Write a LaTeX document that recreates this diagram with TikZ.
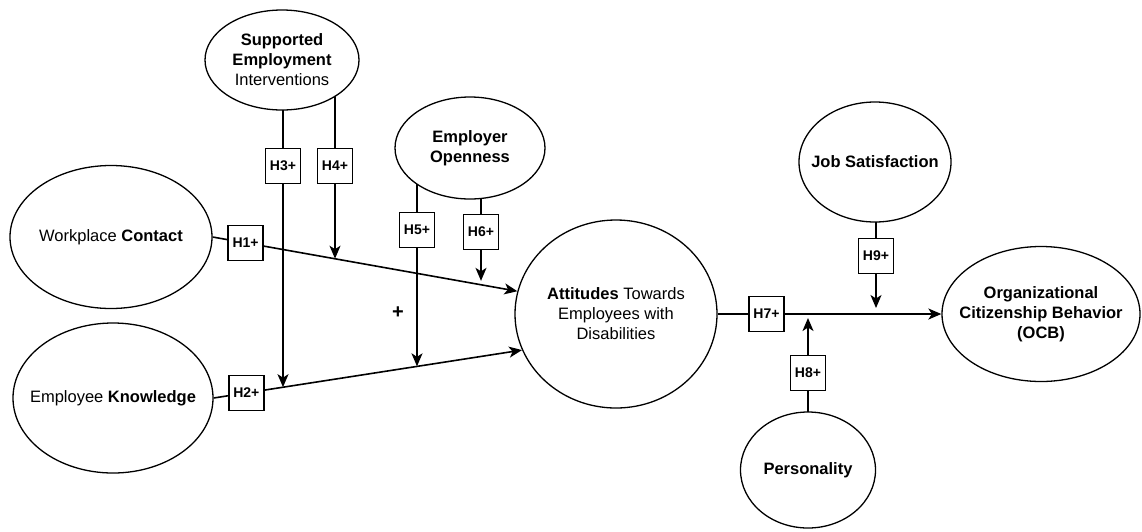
\documentclass[tikz,border=0pt]{standalone}
\usepackage{fontspec}
\setmainfont{Liberation Sans}
\usetikzlibrary{shapes.geometric,arrows.meta,backgrounds}
\begin{document}
\begin{tikzpicture}[x=1pt,y=-1pt,
  ell/.style={ellipse,draw,line width=1.3pt,fill=white,inner xsep=-45pt,inner ysep=-32pt,align=center,font=\fontsize{16.5}{20}\selectfont},
  hbox/.style={rectangle,draw,line width=1.7pt,fill=white,minimum size=35pt,inner sep=0pt,font=\fontsize{14}{16}\selectfont\bfseries},
  conn/.style={line width=1.6pt},
  arr/.style={conn,-{Stealth[length=13pt,width=11pt,inset=3.5pt]}}]
\useasboundingbox (0,0) rectangle (1142,531);

% ellipses
\node[ell,minimum width=154pt,minimum height=100pt] (sei) at (282,60) {\textbf{Supported}\\\textbf{Employment}\\Interventions};
\node[ell,minimum width=202pt,minimum height=143pt] (wc) at (111,237) {Workplace \textbf{Contact}};
\node[ell,minimum width=200pt,minimum height=150pt] (ek) at (113,398) {Employee \textbf{Knowledge}};
\node[ell,minimum width=150pt,minimum height=102pt] (eo) at (470,148) {\textbf{Employer}\\\textbf{Openness}};
\node[ell,minimum width=202pt,minimum height=188pt] (att) at (616,314) {\textbf{Attitudes} Towards\\Employees with\\Disabilities};
\node[ell,minimum width=152pt,minimum height=120pt] (js) at (875,162) {\textbf{Job Satisfaction}};
\node[ell,minimum width=198pt,minimum height=135pt] (ocb) at (1041,314) {\textbf{Organizational}\\\textbf{Citizenship Behavior}\\\textbf{(OCB)}};
\node[ell,minimum width=135pt,minimum height=116pt] (pers) at (808,470) {\textbf{Personality}};

% hypothesis boxes on moderator lines
\node[hbox] (h3) at (283,166) {H3+};
\node[hbox] (h4) at (335,166) {H4+};
\node[hbox] (h5) at (417,230) {H5+};
\node[hbox] (h6) at (481,232) {H6+};
\node[hbox] (h9) at (876,256) {H9+};
\node[hbox] (h8) at (808,373) {H8+};

% main paths
\draw[arr] (wc.east) -- node[hbox,pos=0.108] (h1) {H1+}
  node[coordinate,pos=0.40] (p4) {}
  node[coordinate,pos=0.882] (p6) {} (att.167);
\draw[arr] (ek.east) -- node[hbox,pos=0.106] (h2) {H2+}
  node[coordinate,pos=0.226] (p3) {}
  node[coordinate,pos=0.661] (p5) {} (att.201);
\draw[arr] (att.east) -- node[hbox,pos=0.218] (h7) {H7+}
  node[coordinate,pos=0.4] (p8) {}
  node[coordinate,pos=0.707] (p9) {} (ocb.west);

% moderator lines
\begin{pgfonlayer}{background}
\draw[conn] (h3.north) -- (h3.north |- sei.center);
\draw[conn] (h4.north) -- (h4.north |- sei.center);
\draw[conn] (h5.north) -- (h5.north |- eo.center);
\draw[conn] (h6.north) -- (h6.north |- eo.center);
\draw[conn] (h9.north) -- (h9.north |- js.center);
\draw[conn] (h8.south) -- (h8.south |- pers.center);
\end{pgfonlayer}
\draw[arr] (h3.south) -- (h3.south |- p3);
\draw[arr] (h4.south) -- (h4.south |- p4);
\draw[arr] (h5.south) -- (h5.south |- p5);
\draw[arr,shorten >=4pt] (h6.south) -- (h6.south |- p6);
\draw[arr,shorten >=6pt] (h9.south) -- (h9.south |- p9);
\draw[arr,shorten >=4pt] (h8.north) -- (h8.north |- p8);

\node[font=\fontsize{20}{20}\selectfont\bfseries] (plus) at (398,313) {+};
\end{tikzpicture}
\end{document}
